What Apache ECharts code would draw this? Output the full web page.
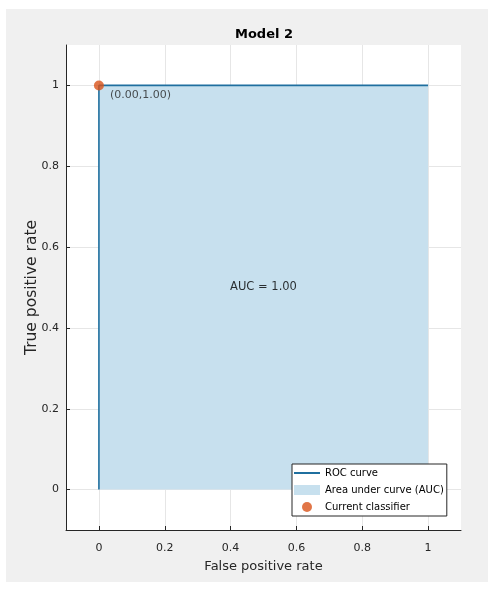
<!DOCTYPE html>
<html><head><meta charset="utf-8">
<script src="https://cdn.jsdelivr.net/npm/echarts@6/dist/echarts.min.js"></script>
<style>html,body{margin:0;padding:0;background:#fff}#c{width:494px;height:589px}</style>
</head><body><div id="c"></div>
<script>
const rocX = [0, 0, 1];
const rocY = [0, 1, 1];
const aucX = [0, 1];
const aucY = [1, 1];
const currentPoint = [0, 1];
const currentLabel = '(0.00,1.00)';
const aucText = 'AUC = 1.00';
const aucTextPos = [0.5, 0.5];
const tickValues = [0, 0.2, 0.4, 0.6, 0.8, 1];
const titleText = 'Model 2';
const xName = 'False positive rate';
const yName = 'True positive rate';

const font = 'DejaVu Sans';
const chart = echarts.init(document.getElementById('c'), null, {renderer: 'canvas'});
const axisCommon = {
  type: 'value', min: -0.1, max: 1.1,
  axisLine: {show: true, onZero: false, lineStyle: {color: '#262626', width: 1}},
  axisTick: {show: true, inside: true, length: 4, customValues: tickValues, lineStyle: {color: '#262626'}},
  axisLabel: {customValues: tickValues, color: '#262626', fontFamily: font, fontSize: 11,
    formatter: v => String(+v.toFixed(2))},
  splitLine: {show: true, lineStyle: {color: '#e6e6e6', width: 1}},
  nameLocation: 'middle',
  nameTextStyle: {fontFamily: font, fontSize: 13, color: '#262626'}
};
chart.setOption({
  animation: false,
  backgroundColor: '#ffffff',
  graphic: [{type: 'rect', z: -10, silent: true, shape: {x: 6, y: 9, width: 482, height: 573}, style: {fill: '#f0f0f0'}}],
  title: {text: titleText, left: 230, top: 23,
    textStyle: {fontFamily: font, fontSize: 13, fontWeight: 'bold', color: '#000'}},
  grid: {left: 66, right: 33, top: 45, bottom: 59, show: true, backgroundColor: '#ffffff', borderWidth: 0},
  xAxis: Object.assign({}, axisCommon, {name: xName, nameGap: 30,
    axisLabel: Object.assign({}, axisCommon.axisLabel, {margin: 13})}),
  yAxis: Object.assign({}, axisCommon, {name: yName, nameGap: 26, nameMoveOverlap: false,
    nameTextStyle: {fontFamily: font, fontSize: 15.5, color: '#262626'},
    axisLabel: Object.assign({}, axisCommon.axisLabel, {margin: 7})}),
  legend: {
    orient: 'vertical', left: 292, top: 464,
    backgroundColor: '#ffffff', borderColor: '#262626', borderWidth: 1, borderRadius: 0,
    padding: [4, 3, 4, 2], itemGap: 7, itemWidth: 26, itemHeight: 10,
    textStyle: {fontFamily: font, fontSize: 10, color: '#000'},
    data: [
      {name: 'ROC curve', icon: 'path://M0,4 L26,4 L26,6 L0,6 Z'},
      {name: 'Area under curve (AUC)', icon: 'rect'},
      {name: 'Current classifier', icon: 'circle'}
    ]
  },
  series: [
    {name: 'Area under curve (AUC)', type: 'line', symbol: 'none',
      data: aucX.map((x, i) => [x, aucY[i]]),
      itemStyle: {color: '#c7e0ee'}, lineStyle: {width: 0},
      areaStyle: {color: '#c7e0ee', opacity: 1}, z: 1},
    {name: 'ROC curve', type: 'line', symbol: 'none',
      data: rocX.map((x, i) => [x, rocY[i]]),
      itemStyle: {color: '#1f6f9f'}, lineStyle: {color: '#1f6f9f', width: 1.6}, z: 2},
    {name: 'Current classifier', type: 'scatter', symbol: 'circle', symbolSize: 10,
      data: [currentPoint], itemStyle: {color: '#d95319'}, z: 3,
      label: {show: true, formatter: currentLabel, position: [16, 9], align: 'left', verticalAlign: 'top',
        fontFamily: font, fontSize: 11, color: '#262626'}},
    {name: 'aucText', type: 'scatter', symbol: 'circle', symbolSize: 1,
      itemStyle: {color: 'rgba(0,0,0,0)'},
      data: [aucTextPos], silent: true, z: 4,
      label: {show: true, formatter: aucText, position: 'inside',
        fontFamily: font, fontSize: 11.5, color: '#000'}}
  ]
});
</script></body></html>
